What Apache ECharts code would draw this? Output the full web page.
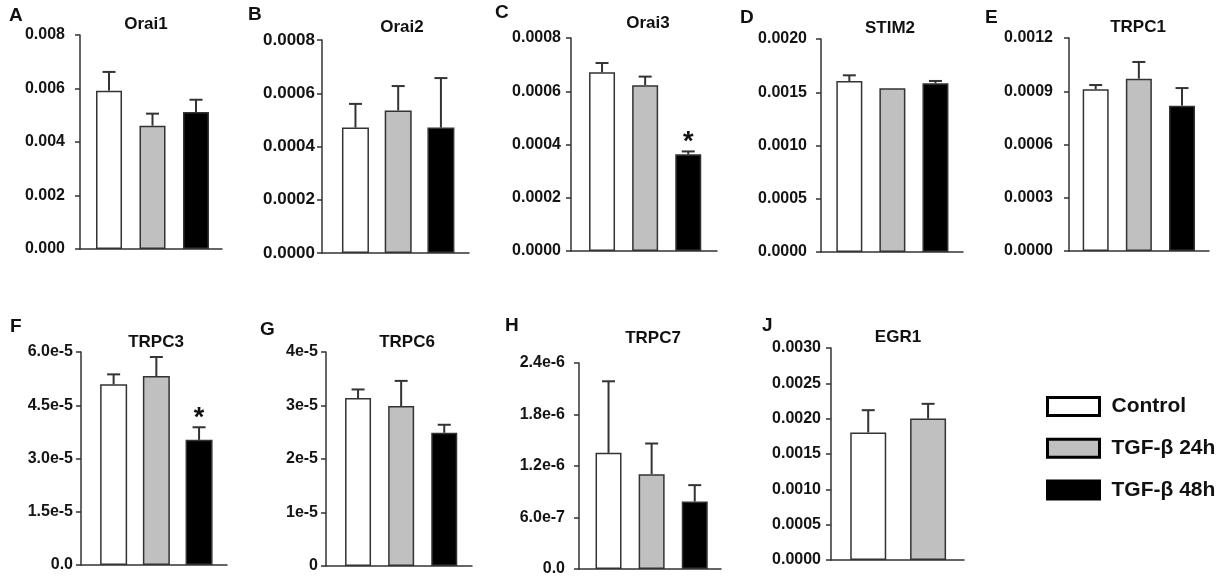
<!DOCTYPE html>
<html>
<head>
<meta charset="utf-8">
<script src="https://cdn.jsdelivr.net/npm/echarts@6/dist/echarts.min.js"></script>
<style>html,body{margin:0;padding:0;background:#fff;}#c{width:1229px;height:579px;}</style>
</head>
<body>
<div id="c"></div>
<script>
// ---- data ----
const groups = ['Control', 'TGF-β 24h', 'TGF-β 48h'];
const genes = ['Orai1', 'Orai2', 'Orai3', 'STIM2', 'TRPC1', 'TRPC3', 'TRPC6', 'TRPC7', 'EGR1'];
const letters = ['A', 'B', 'C', 'D', 'E', 'F', 'G', 'H', 'J'];
const control = [0.00592, 0.000471, 0.000671, 0.001606, 0.000911, 5.09e-5, 3.14e-5, 1.353e-6, 0.001804];
const tgf24 = [0.00461, 0.000535, 0.000623, 0.001537, 0.000971, 5.325e-5, 2.99e-5, 1.105e-6, 0.002001];
const tgf48 = [0.00512, 0.000471, 0.000363, 0.001584, 0.000819, 3.525e-5, 2.49e-5, 7.87e-7, null];
const controlErr = [0.0007, 0.000089, 0.000035, 0.000053, 0.000024, 2.8e-6, 1.6e-6, 8.34e-7, 0.000316];
const tgf24Err = [0.00045, 0.000092, 0.000032, 0, 0.000094, 5.35e-6, 4.7e-6, 3.57e-7, 0.000209];
const tgf48Err = [0.00046, 0.000186, 0.000011, 0.000022, 0.000099, 3.55e-6, 1.5e-6, 1.9e-7, null];
const sig48 = [false, false, true, false, false, true, false, false, false];
const yMax = [0.008, 0.0008, 0.0008, 0.0020, 0.0012, 6e-5, 4e-5, 2.4e-6, 0.0030];
const yStep = [0.002, 0.0002, 0.0002, 0.0005, 0.0003, 1.5e-5, 1e-5, 6e-7, 0.0005];
const tickLabels = [
  ['0.000', '0.002', '0.004', '0.006', '0.008'],
  ['0.0000', '0.0002', '0.0004', '0.0006', '0.0008'],
  ['0.0000', '0.0002', '0.0004', '0.0006', '0.0008'],
  ['0.0000', '0.0005', '0.0010', '0.0015', '0.0020'],
  ['0.0000', '0.0003', '0.0006', '0.0009', '0.0012'],
  ['0.0', '1.5e-5', '3.0e-5', '4.5e-5', '6.0e-5'],
  ['0', '1e-5', '2e-5', '3e-5', '4e-5'],
  ['0.0', '6.0e-7', '1.2e-6', '1.8e-6', '2.4e-6'],
  ['0.0000', '0.0005', '0.0010', '0.0015', '0.0020', '0.0025', '0.0030']
];

// ---- layout (pixels) ----
const L = {
  grid: [
    [80, 35, 142, 214], [322, 40, 147, 213], [571, 38, 146, 213], [821, 39, 142, 213], [1069, 38, 140, 213],
    [81, 352, 146, 213], [326, 352, 146, 214], [579, 363, 142, 206], [831, 348, 133, 212]
  ],
  xMin: [-0.667, -0.783, -0.72, -0.658, -0.618, -0.764, -0.744, -0.685, -0.622],
  xMax: [2.598, 2.657, 2.667, 2.64, 2.625, 2.654, 2.644, 2.609, 1.6],
  barW: [26, 27, 26, 26, 26, 27, 26, 26, 36],
  labelMargin: [15, 7, 10, 14, 16, 8, 8, 14, 10],
  labelSize: [16, 17, 16, 16, 16, 16, 16, 16, 16],
  titlePos: [[146, 24], [402, 27], [648, 23], [890, 28], [1138, 27], [156, 342], [407, 342], [653, 338], [898, 337]],
  letterPos: [[9, 16], [248, 15], [495, 13], [740, 18], [985, 18], [10, 327], [260, 330], [505, 326], [762, 326]]
};
const FONT = "'Liberation Sans', Arial, Helvetica, sans-serif";
const colors = ['#ffffff', '#c0c0c0', '#000000'];
const lineCol = '#333333';

const means = [control, tgf24, tgf48];
const errs = [controlErr, tgf24Err, tgf48Err];

const grids = [], xAxes = [], yAxes = [], series = [], graphics = [];
genes.forEach((g, p) => {
  const [l, t, w, h] = L.grid[p];
  grids.push({ left: l, top: t, width: w, height: h });
  xAxes.push({
    type: 'value', gridIndex: p, min: L.xMin[p], max: L.xMax[p],
    axisLine: { show: true, onZero: false, lineStyle: { color: lineCol, width: 1.5 } },
    axisTick: { show: false }, axisLabel: { show: false }, splitLine: { show: false }
  });
  const step = yStep[p], labs = tickLabels[p];
  yAxes.push({
    type: 'value', gridIndex: p, min: 0, max: yMax[p], interval: step,
    axisLine: { show: true, onZero: false, lineStyle: { color: lineCol, width: 1.5 } },
    axisTick: { show: true, length: 5, lineStyle: { color: lineCol, width: 1.5 } },
    splitLine: { show: false },
    axisLabel: {
      margin: L.labelMargin[p], color: '#141414', fontWeight: 'bold', fontSize: L.labelSize[p], fontFamily: FONT,
      formatter: v => { const i = Math.round(v / step); return labs[i] !== undefined ? labs[i] : ''; }
    }
  });
  const errData = [];
  groups.forEach((name, i) => {
    const v = means[i][p];
    if (v === null || v === undefined) return;
    series.push({
      type: 'bar', name: name, xAxisIndex: p, yAxisIndex: p,
      data: [[i, v]], barWidth: L.barW[p], barGap: '-100%',
      itemStyle: { color: colors[i], borderColor: lineCol, borderWidth: 1.5 },
      emphasis: { disabled: true }
    });
    errData.push([i, v, v + errs[i][p], (i === 2 && sig48[p]) ? 1 : 0]);
  });
  series.push({
    type: 'custom', xAxisIndex: p, yAxisIndex: p, z: 5, data: errData,
    renderItem: (params, api) => {
      const x = api.value(0), m = api.value(1), top = api.value(2), s = api.value(3);
      const p0 = api.coord([x, m]), p1 = api.coord([x, top]);
      const ch = [];
      if (top > m) {
        ch.push({ type: 'line', shape: { x1: p0[0], y1: p0[1], x2: p1[0], y2: p1[1] }, style: { stroke: lineCol, lineWidth: 2 } });
        ch.push({ type: 'line', shape: { x1: p1[0] - 6.5, y1: p1[1], x2: p1[0] + 6.5, y2: p1[1] }, style: { stroke: lineCol, lineWidth: 2 } });
      }
      if (s) {
        ch.push({ type: 'text', x: p1[0], y: p1[1] + 5, style: { text: '*', font: 'bold 27px ' + FONT, fill: '#111', align: 'center', verticalAlign: 'bottom' } });
      }
      return { type: 'group', children: ch };
    }
  });
  graphics.push({ type: 'text', x: L.titlePos[p][0], y: L.titlePos[p][1], style: { text: g, font: 'bold 17px ' + FONT, fill: '#111', align: 'center', verticalAlign: 'middle' } });
  graphics.push({ type: 'text', x: L.letterPos[p][0], y: L.letterPos[p][1], style: { text: letters[p], font: 'bold 19px ' + FONT, fill: '#111', align: 'left', verticalAlign: 'middle' } });
});

const chart = echarts.init(document.getElementById('c'), null, { renderer: 'canvas' });
chart.setOption({
  animation: false,
  backgroundColor: '#fff',
  grid: grids, xAxis: xAxes, yAxis: yAxes, series: series,
  graphic: graphics,
  legend: {
    data: groups, orient: 'vertical', left: 1041, top: 391,
    itemWidth: 52, itemHeight: 18, itemGap: 20.7, selectedMode: false, icon: 'rect',
    itemStyle: { borderWidth: 3, borderColor: '#000' },
    textStyle: { fontSize: 21, fontWeight: 'bold', fontFamily: FONT, color: '#111', lineHeight: 20, padding: [0, 0, 0, 7] }
  }
});
</script>
</body>
</html>
